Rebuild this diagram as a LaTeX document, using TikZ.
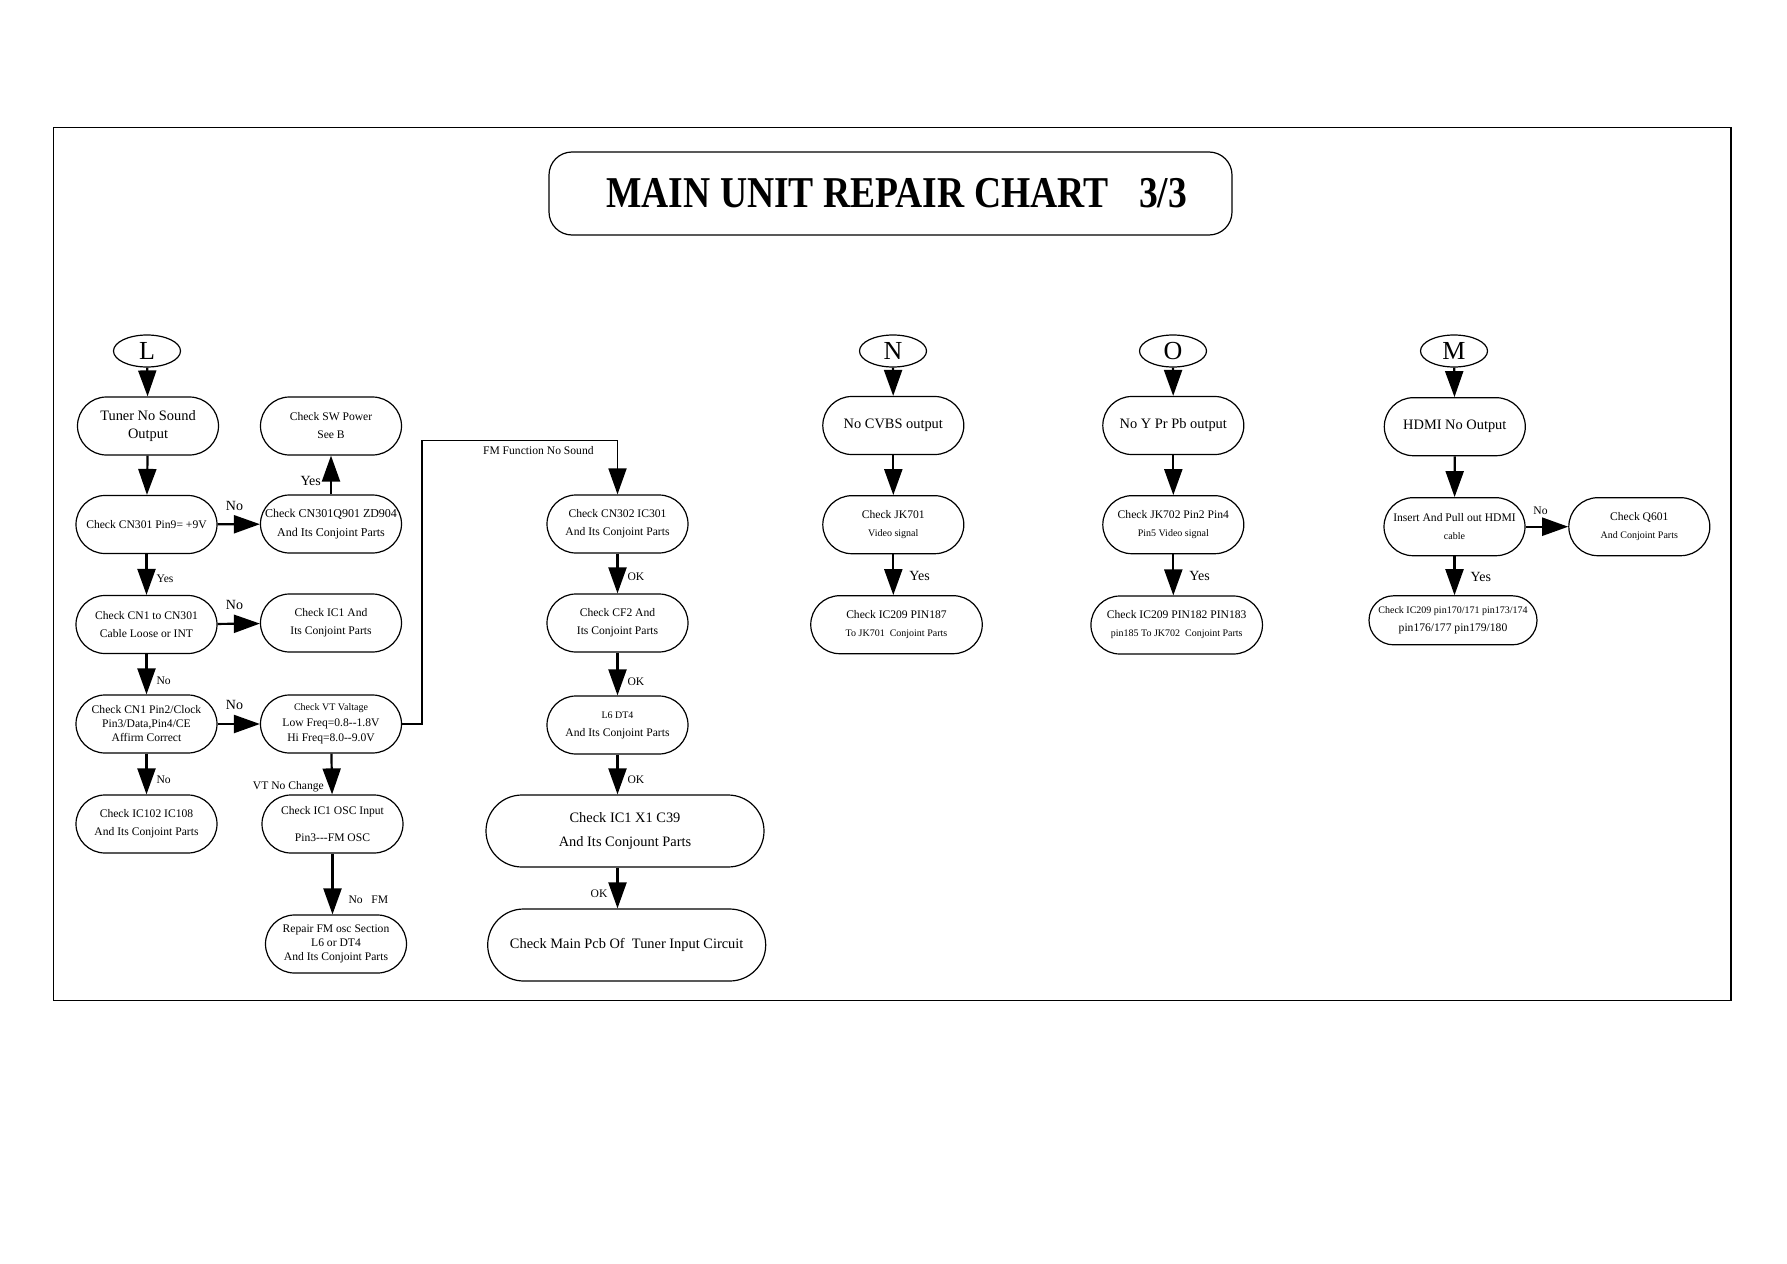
\documentclass[tikz,border=0pt]{standalone}
\usepackage{fontspec}
\setmainfont{Liberation Serif}
\usepackage{graphicx}
\usetikzlibrary{positioning,arrows.meta,shapes.geometric}
\newcommand{\minor}{\fontsize{5}{7}\selectfont}
\tikzset{
  box/.style={draw, line width=0.6pt, rounded corners=14.5pt, align=center,
              minimum width=70.5pt, minimum height=29pt, inner sep=1pt,
              font=\fontsize{5.8}{9}\selectfont},
  headbox/.style={box, font=\fontsize{7.2}{9}\selectfont},
  widebox/.style={box, minimum width=85.75pt},
  bigbox/.style={box, minimum width=139pt, minimum height=36pt,
                 rounded corners=18pt, font=\fontsize{7.2}{11.7}\selectfont},
  entry/.style={draw, ellipse, line width=0.6pt, minimum width=33.5pt,
                minimum height=16pt, inner sep=0pt,
                font=\fontsize{13}{13}\selectfont},
  flow/.style={-{Triangle[length=13pt,width=9pt]}, line width=1.1pt},
  lbl/.style={font=\fontsize{5.8}{6}\selectfont, inner sep=1.5pt},
  lblbig/.style={font=\fontsize{7}{7}\selectfont, inner sep=1.5pt},
}
\begin{document}
\begin{tikzpicture}[x=0.5pt, y=-0.5pt]
  \useasboundingbox (0,0) rectangle (1787,1263);
  % frame and title
  \draw[line width=0.6pt] (53.6,127.6) rectangle (1731,1000.6);
  \node[draw, line width=0.6pt, rounded corners=11.5pt, minimum width=341.5pt,
        minimum height=41.5pt] (title) at (890.5,193.5)
    {\hspace{6.3pt}\scalebox{0.854}[1]{\fontsize{22}{24}\selectfont\bfseries
     MAIN UNIT REPAIR CHART\hspace{18pt}3/3}};

  % column L, main line
  \node[entry] (tagL) at (147,351) {L};
  \node[headbox] (tuner) at (148,426) {Tuner No Sound\\Output};
  \node[box] (cn301) at (146.5,524.5) {Check CN301 Pin9= +9V};
  \node[box] (cn1) at (146.5,624.5) {Check CN1 to CN301\\Cable Loose or INT};
  \node[box, font=\fontsize{5.8}{7}\selectfont] (pin2) at (146.5,724)
    {Check CN1 Pin2/Clock\\Pin3/Data,Pin4/CE\\Affirm Correct};
  \node[box] (ic102) at (146.5,824) {Check IC102 IC108\\And Its Conjoint Parts};
  % column L, side branch
  \node[box, font=\fontsize{6}{9.5}\selectfont] (q901) at (331,524)
    {Check CN301Q901 ZD904\\And Its Conjoint Parts};
  \node[box] (swpow) at (q901 |- tuner) {Check SW Power\\See B};
  \node[box] (ic1) at (331,623) {Check IC1 And\\Its Conjoint Parts};
  \node[box, font=\fontsize{5.8}{7.8}\selectfont] (vt) at (331,724)
    {{\minor Check VT Valtage}\\Low Freq=0.8-{}-1.8V\\Hi Freq=8.0-{}-9.0V};
  \node[box] (osc) at (332.5,824) {Check IC1 OSC Input\\[4.3pt]Pin3-{}-{}-FM OSC};
  \node[box, font=\fontsize{5.8}{7}\selectfont] (repfm) at (336,944)
    {Repair FM osc Section\\L6 or DT4\\And Its Conjoint Parts};

  \draw[flow] (tagL) -- (tuner);
  \draw[flow] (tuner) -- (cn301);
  \draw[flow] (cn301) -- node[lblbig, above=5pt, pos=0.4] (no1) {No} (q901);
  \draw[flow] (q901) -- node[lblbig, left=3pt, pos=0.35] (yes1) {Yes} (swpow);
  \draw[flow] (cn301) -- node[lbl, right=3pt, pos=0.6] (yes2) {Yes} (cn1);
  \draw[flow] (cn1) -- node[lblbig, above=5pt, pos=0.4] (no2) {No} (ic1);
  \draw[flow] (cn1) -- node[lbl, right=3pt, pos=0.65] (no3) {No} (pin2);
  \draw[flow] (pin2) -- node[lblbig, above=5pt, pos=0.4] (no4) {No} (vt);
  \draw[flow] (pin2) -- node[lbl, right=3pt, pos=0.65] (no5) {No} (ic102);
  \draw[flow] (vt) -- node[lbl, left=2pt, pos=0.8] (vtnc) {VT No Change} (osc);
  \draw[flow] (osc.south) -- node[lbl, right=6pt, pos=0.76] (nofm) {No\ \ \ FM}
    (osc.south |- repfm.north);

  % FM branch
  \node[box] (cn302) at (617.5,524) {Check CN302 IC301\\And Its Conjoint Parts};
  \node[box] (cf2) at (617.5,623) {Check CF2 And\\Its Conjoint Parts};
  \node[box] (l6) at (617.5,725) {{\minor L6 DT4}\\And Its Conjoint Parts};
  \node[bigbox] (ic1x1) at (625,831) {Check IC1 X1 C39\\And Its Conjount Parts};
  \node[bigbox] (mainpcb) at (626.7,945) {Check Main Pcb Of\ \ Tuner Input Circuit};

  \coordinate (fmturn) at (421.7,440.5);
  \draw[flow, line width=0.9pt] (vt.east) -| (fmturn) -| (cn302.north);
  \node[lbl, anchor=north east] (fmlbl) at (597,443) {FM Function No Sound};
  \draw[flow] (cn302) -- node[lbl, right=3pt, pos=0.57] (ok1) {OK} (cf2);
  \draw[flow] (cf2) -- node[lbl, right=3pt, pos=0.68] (ok2) {OK} (l6);
  \draw[flow] (l6.south) -- node[lbl, right=3pt, pos=0.63] (ok3) {OK}
    (l6.south |- ic1x1.north);
  \draw[flow] (l6.south |- ic1x1.south) -- node[lbl, left=3pt, pos=0.64] (ok4) {OK}
    (l6.south |- mainpcb.north);

  % column N
  \node[entry] (tagN) at (893,351) {N};
  \node[headbox] (cvbs) at (893.3,425.5) {No CVBS output};
  \node[box] (jk701) at (893.3,524.7) {Check JK701\\{\minor Video signal}};
  \node[widebox] (pin187) at (896.5,624.7)
    {Check IC209 PIN187\\{\minor To JK701\ \ Conjoint Parts}};
  \draw[flow] (tagN) -- (cvbs);
  \draw[flow] (cvbs) -- (jk701);
  \draw[flow] (jk701.south) -- node[lblbig, right=6pt, pos=0.53] (yes3) {Yes}
    (jk701.south |- pin187.north);

  % column O
  \node[entry] (tagO) at (1173,351) {O};
  \node[headbox] (ypb) at (1173.3,425.5) {No Y Pr Pb output};
  \node[box] (jk702) at (1173.3,524.7) {Check JK702 Pin2 Pin4\\{\minor Pin5 Video signal}};
  \node[widebox] (pin182) at (1176.7,625)
    {Check IC209 PIN182 PIN183\\{\minor pin185 To JK702\ \ Conjoint Parts}};
  \draw[flow] (tagO) -- (ypb);
  \draw[flow] (ypb) -- (jk702);
  \draw[flow] (jk702.south) -- node[lblbig, right=6pt, pos=0.53] (yes4) {Yes}
    (jk702.south |- pin182.north);

  % column M
  \node[entry] (tagM) at (1454,351) {M};
  \node[headbox] (hdmi) at (1454.8,426.7) {HDMI No Output};
  \node[box] (insert) at (1454.5,526.7) {Insert And Pull out HDMI\\{\minor cable}};
  \node[box, right=21.3pt of insert] (q601) {Check Q601\\{\minor And Conjoint Parts}};
  \node[box, minimum width=84pt, minimum height=24.5pt, rounded corners=12.25pt]
    (pin170) at (1453,620.3) {{\minor Check IC209 pin170/171 pin173/174}\\pin176/177 pin179/180};
  \draw[flow] (tagM) -- (hdmi);
  \draw[flow] (hdmi) -- (insert);
  \draw[flow] (insert) -- node[lbl, above=4pt, pos=0.35] (no6) {No} (q601);
  \draw[flow] (insert.south) -- node[lblbig, right=6pt, pos=0.53] (yes5) {Yes}
    (insert.south |- pin170.north);
\end{tikzpicture}
\end{document}
